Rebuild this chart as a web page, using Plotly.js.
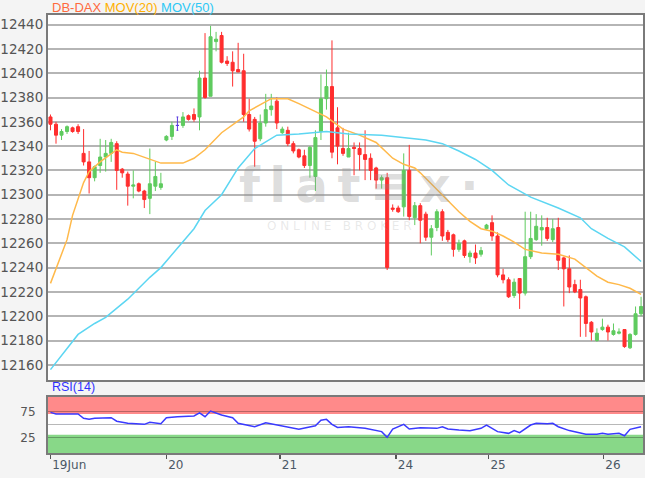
<!DOCTYPE html>
<html><head><meta charset="utf-8">
<script src="https://cdn.plot.ly/plotly-3.0.1.min.js"></script>
<style>html,body{margin:0;padding:0;background:#f4f4f4;} #chart{width:645px;height:478px;}</style>
</head><body><div id="chart"></div>
<script>
// Hourly candles, index 0 = first candle of 19 Jun
const openP  = [12364,12358,12349,12352,12355,12356,12334,12327,12314,12324,12331,12334,12342,12321,12317,12307,12309,12303,12297,12307,12306,
                12345,12348,12357,12357,12365,12366,12364,12396,12381,12426,12431,12410,12409,12403,12402,12366,12362,12346,12359,12370,12377,
                12351,12353,12342,12337,12332,12324,12315,12352,12379,12389,12355,12338,12331,12339,12338,12333,12330,12322,12312,12314,
                12289,12289,12290,12320,12281,12291,12284,12265,12273,12286,12269,12267,12255,12262,12249,12252,12251,
                12272,12277,12266,12234,12230,12217,12231,12219,12249,12263,12271,12273,12263,12273,12248,12239,12226,12222,12216,12195,
                12180,12189,12191,12185,12186,12189,12174,12185,12202];
const highP  = [12366,12360,12354,12357,12356,12358,12354,12336,12324,12346,12345,12346,12344,12322,12319,12320,12310,12304,12338,12327,12318,
                12349,12360,12364,12368,12366,12371,12402,12433,12439,12434,12434,12414,12418,12425,12416,12379,12364,12366,12383,12383,12380,
                12356,12356,12344,12338,12337,12340,12353,12399,12403,12427,12372,12355,12351,12343,12343,12353,12334,12323,12316,12318,
                12292,12291,12334,12341,12294,12293,12286,12275,12288,12288,12271,12268,12263,12263,12254,12259,12257,
                12276,12283,12269,12239,12232,12231,12231,12286,12286,12284,12283,12281,12280,12281,12249,12250,12230,12230,12217,12196,
                12190,12198,12193,12194,12190,12189,12186,12208,12216];
const lowP   = [12353,12342,12345,12350,12351,12350,12324,12301,12311,12318,12319,12327,12304,12314,12291,12297,12302,12289,12284,12303,12304,
                12344,12345,12353,12355,12361,12360,12353,12379,12381,12418,12408,12406,12389,12401,12360,12352,12323,12344,12356,12365,12354,
                12350,12340,12334,12330,12322,12314,12303,12345,12370,12330,12325,12332,12331,12316,12320,12312,12312,12305,12305,12238,
                12286,12285,12282,12279,12275,12260,12262,12250,12270,12262,12261,12249,12253,12248,12244,12243,12249,
                12271,12262,12232,12227,12215,12215,12206,12217,12247,12262,12258,12262,12261,12238,12208,12219,12219,12183,12183,12180,
                12179,12188,12180,12184,12185,12174,12173,12184,12200];
const closeP = [12358,12349,12352,12356,12352,12352,12327,12314,12323,12331,12334,12343,12320,12318,12307,12308,12303,12296,12309,12315,12309,
                12348,12357,12357,12364,12362,12362,12396,12380,12430,12428,12409,12408,12402,12401,12366,12354,12344,12359,12370,12373,12359,
                12354,12342,12336,12331,12324,12339,12347,12379,12389,12335,12340,12334,12338,12338,12333,12329,12320,12312,12314,12240,
                12288,12286,12320,12282,12291,12279,12265,12272,12286,12266,12263,12255,12260,12250,12252,12248,12254,
                12275,12266,12234,12230,12216,12228,12219,12249,12264,12274,12273,12264,12272,12246,12239,12224,12220,12215,12194,12187,
                12186,12191,12187,12188,12187,12175,12185,12202,12208];

// Moving averages (candle index, value)
const ma20Idx = [0,2,3,4,6,7,9,12,13,15,17,20,24,26,28,31,35,36,40,43,45,48,50,53,56,59,62,64,66,67,69,71,74,76,78,80,82,84,86,89,92,95,97,99,101,103,105,107];
const ma20Val = [12227,12251,12263,12283,12310,12319,12327,12337,12335,12334,12331,12326,12326,12330,12337,12351,12364,12369,12379,12379,12375,12368,12364,12354,12349,12343,12330,12325,12322,12318,12309,12300,12286,12278,12272,12270,12266,12261,12255,12252,12251,12247,12240,12233,12228,12226,12223,12218];
const ma50Idx = [0,3,5,8,10,14,18,20,24,26,28,31,34,37,41,45,50,54,60,64,68,71,74,77,80,83,87,92,96,98,101,104,107];
const ma50Val = [12156,12173,12185,12194,12199,12214,12232,12240,12261,12272,12287,12300,12322,12338,12349,12350,12352,12350,12349,12347,12345,12342,12336,12329,12320,12308,12298,12289,12281,12272,12264,12257,12245];

// RSI(14)
const rsiIdx = [0,1,5,6,7,8,11,12,14,17,18,20,21,23,26,27,28,29,31,33,34,37,39,42,45,48,49,50,51,52,54,57,60,61,62,64,65,67,70,71,72,74,76,78,79,81,83,84,85,87,88,90,91,92,94,97,99,100,101,103,104,105,107];
const rsiVal = [73,70,70,61.5,59.6,61.5,62.7,56,52,50,54,51,62.7,64.6,66,72,64.6,75.6,68,62.7,52,45.4,53,47.3,40.4,47.3,58,59.6,50,44,45.4,42.3,36,25,41,50,41,43.5,42.3,45.4,41,39,37.7,42.3,48.7,36,32.7,38,34,48.7,52,51,52,45.4,38,31,31,33,31,33,28,40.4,45.4];

const dayTickLabels = ['19Jun','20','21','24','25','26'];
const dayTickIdx = [0,21,41.6,62.6,79.4,100.2];

const idx = openP.map((_, i) => i);
const isDoji = idx.map(i => openP[i] === closeP[i]);
const pick = (arr, want) => idx.filter(i => isDoji[i] === want).map(i => arr[i]);

const GREEN = '#5fcb5f', RED = '#ff2e2e', DOJI = '#5b3be0';

const traces = [
  {type:'scatter', mode:'lines', x:ma20Idx, y:ma20Val, line:{color:'#ffb94a', width:1.5}, xaxis:'x', yaxis:'y', hoverinfo:'skip'},
  {type:'scatter', mode:'lines', x:ma50Idx, y:ma50Val, line:{color:'#5cd6f2', width:1.5}, xaxis:'x', yaxis:'y', hoverinfo:'skip'},
  {type:'candlestick', x:pick(idx,false), open:pick(openP,false), high:pick(highP,false), low:pick(lowP,false), close:pick(closeP,false),
   increasing:{line:{color:GREEN, width:1}, fillcolor:GREEN},
   decreasing:{line:{color:RED, width:1}, fillcolor:RED},
   whiskerwidth:0, xaxis:'x', yaxis:'y', hoverinfo:'skip'},
  {type:'candlestick', x:pick(idx,true), open:pick(openP,true), high:pick(highP,true), low:pick(lowP,true), close:pick(closeP,true),
   increasing:{line:{color:DOJI, width:1}, fillcolor:DOJI},
   decreasing:{line:{color:DOJI, width:1}, fillcolor:DOJI},
   whiskerwidth:0.6, xaxis:'x', yaxis:'y', hoverinfo:'skip'},
  {type:'scatter', mode:'lines', x:rsiIdx, y:rsiVal, line:{color:'#3a3aff', width:1.5}, xaxis:'x2', yaxis:'y2', hoverinfo:'skip'}
];

const xr = [-0.45, 107.35];
const layout = {
  width:645, height:478,
  margin:{l:48, r:2, t:15, b:25},
  paper_bgcolor:'#f4f4f4', plot_bgcolor:'#ffffff',
  showlegend:false, hovermode:false, boxgap:0.22,
  font:{family:'DejaVu Sans, Arial, sans-serif', color:'#555'},
  xaxis:{domain:[0,1], anchor:'y', range:xr, showgrid:false, zeroline:false, showticklabels:false, ticks:'',
         showline:true, mirror:true, linecolor:'#7a7a7a', linewidth:2, rangeslider:{visible:false}},
  yaxis:{domain:[0.1667,1], anchor:'x', range:[12147.5,12447.9], dtick:20, tick0:12160, tickformat:'d',
         showgrid:true, gridcolor:'#b5b5b5', gridwidth:2,
         zeroline:false, showline:true, mirror:true, linecolor:'#7a7a7a', linewidth:2, ticks:'',
         tickfont:{size:13.5, color:'#555', family:'DejaVu Sans, Arial, sans-serif'}},
  xaxis2:{domain:[0,1], anchor:'y2', range:xr, showgrid:false, zeroline:false, tickmode:'array', tickvals:dayTickIdx, ticktext:dayTickLabels,
          ticks:'outside', ticklen:4, tickcolor:'#555', tickwidth:1.5, ticklabelposition:'outside right',
          tickfont:{size:12, color:'#4b5866', family:'DejaVu Sans, Arial, sans-serif'},
          showline:true, mirror:true, linecolor:'#7a7a7a', linewidth:2},
  yaxis2:{domain:[0,0.1279], anchor:'x2', range:[-5,102.5], tickmode:'array', tickvals:[25,50,75], ticktext:['25','','75'],
          showgrid:true, gridcolor:'rgba(0,0,0,0.28)', gridwidth:1.5, zeroline:false, ticks:'', ticklabelstandoff:8,
          showline:true, mirror:true, linecolor:'#7a7a7a', linewidth:2,
          tickfont:{size:12, color:'#555', family:'DejaVu Sans, Arial, sans-serif'}},
  shapes:[
    {type:'rect', xref:'x2 domain', yref:'y2', x0:0, x1:1, y0:70, y1:102.5, fillcolor:'#ff8a8a', line:{width:0}, layer:'below'},
    {type:'rect', xref:'x2 domain', yref:'y2', x0:0, x1:1, y0:-5, y1:30, fillcolor:'#88d888', line:{width:0}, layer:'below'}
  ],
  annotations:[
    {xref:'paper', yref:'paper', x:0.003, y:1.017, xanchor:'left', yanchor:'middle', showarrow:false,
     text:"<span style='color:#ff6a3d'>DB-DAX</span> <span style='color:#ffb000'>MOV(20)</span> <span style='color:#2ec8f4'>MOV(50)</span>",
     font:{size:13, family:'Liberation Sans, Arial, sans-serif'}},
    {xref:'paper', yref:'paper', x:0.003, y:0.15, xanchor:'left', yanchor:'middle', showarrow:false,
     text:'RSI(14)', font:{size:12.5, color:'#3030ff', family:'Liberation Sans, Arial, sans-serif'}},
    {xref:'paper', yref:'paper', x:0.318, y:0.612, xanchor:'left', yanchor:'middle', showarrow:false,
     text:'<b>f\u2009l\u2009a\u2009t\u2009\u2261\u2009x\u2009\u00b7</b>', font:{size:48, color:'rgba(140,140,140,0.3)', family:'DejaVu Sans, sans-serif'}},
    {xref:'paper', yref:'paper', x:0.365, y:0.518, xanchor:'left', yanchor:'middle', showarrow:false,
     text:'O N L I N E   B R O K E R', font:{size:12, color:'rgba(140,140,140,0.2)', family:'DejaVu Sans, sans-serif'}}
  ]
};

Plotly.newPlot('chart', traces, layout, {displayModeBar:false, staticPlot:true});
</script>
</body></html>
